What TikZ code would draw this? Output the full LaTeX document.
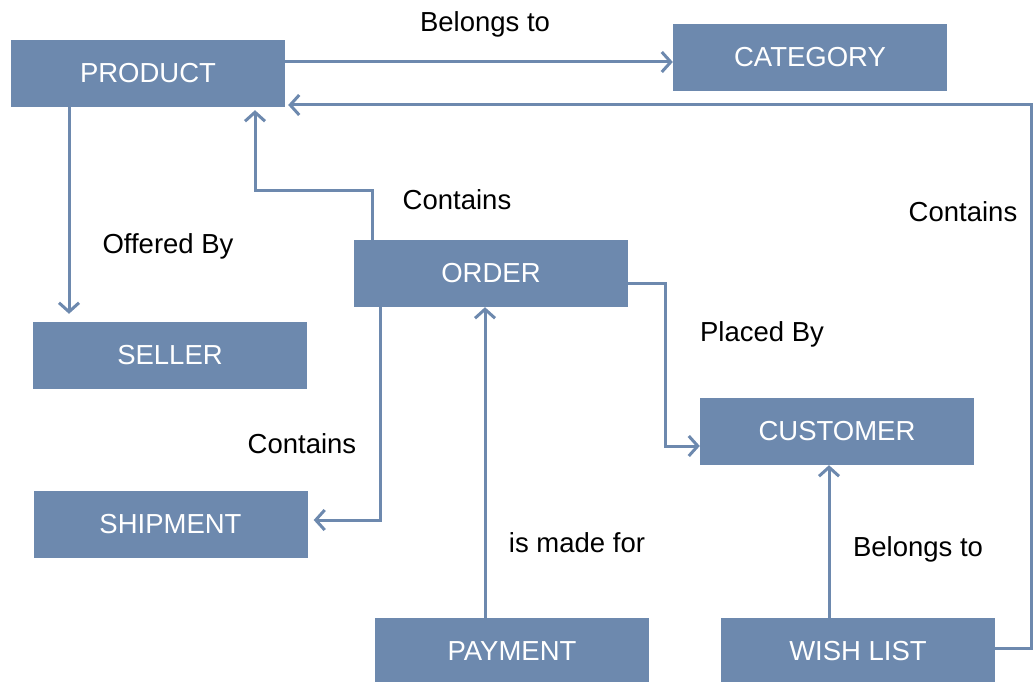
\documentclass[tikz,border=0pt]{standalone}
\usepackage{fontspec}
\setmainfont{Liberation Sans}
\usepackage{xcolor}
\usepackage{tikz}
\usetikzlibrary{arrows.meta, positioning}
\definecolor{entblue}{HTML}{6D89AE}
\tikzset{
  ent/.style={fill=entblue, text=white, minimum width=274pt, minimum height=67pt, inner sep=0pt, font=\fontsize{27.5}{32}\selectfont},
  arr/.style={-{Straight Barb[length=9pt, width=20pt]}, line width=3pt, draw=entblue},
  lbl/.style={font=\fontsize{27.5}{32}\selectfont, inner sep=0pt}
}
\begin{document}
\begin{tikzpicture}[x=1pt, y=-1pt]
    \useasboundingbox (0,0) rectangle (1033,682);
    \node[ent] (product) at (148,73.5) {PRODUCT};
    \node[ent] (category) at (810,57.5) {CATEGORY};
    \node[ent] (order) at (491,273.5) {ORDER};
    \node[ent] (seller) at (170,355.5) {SELLER};
    \node[ent] (customer) at (837,431.5) {CUSTOMER};
    \node[ent] (shipment) at (170.5,524.5) {SHIPMENT};
    \node[ent] (payment) at (512,651.5) {PAYMENT};
    \node[ent] (wish) at (858,651.5) {WISH LIST};

    \node[lbl] (l1) at (485,24) {Belongs to};
    \node[lbl] (l2) at (168,246) {Offered By};
    \node[lbl] (l3) at (457,200) {Contains};
    \node[lbl] (l4) at (963,212) {Contains};
    \node[lbl] (l5) at (762,334) {Placed By};
    \node[lbl] (l6) at (302,444) {Contains};
    \node[lbl] (l7) at (577,543) {is made for};
    \node[lbl] (l8) at (918,549) {Belongs to};

    \draw[arr] ([yshift=11.5pt]product.east) -- ([yshift=-4.5pt]category.west);
    \draw[arr, shorten >=3pt] ([yshift=3.5pt]wish.east) -- ++(36,0) |- ([yshift=-31.5pt]product.east);
    \draw[arr, shorten >=8pt] ([xshift=-79pt]product.south) -- ([xshift=-101pt]seller.north);
    \draw[arr, shorten >=3pt] ([xshift=-119pt]order.north) -- ++(0,-49) -| ([xshift=107pt]product.south);
    \draw[arr, shorten >=6pt] ([xshift=-111pt]order.south) |- ([yshift=4.5pt]shipment.east);
    \draw[arr] ([yshift=-9.5pt]order.east) -- ++(37,0) |- ([yshift=-14.5pt]customer.west);
    \draw[arr] ([xshift=-27pt]payment.north) -- ([xshift=-6pt]order.south);
    \draw[arr] ([xshift=-29pt]wish.north) -- ([xshift=-8pt]customer.south);
  \end{tikzpicture}
\end{document}
